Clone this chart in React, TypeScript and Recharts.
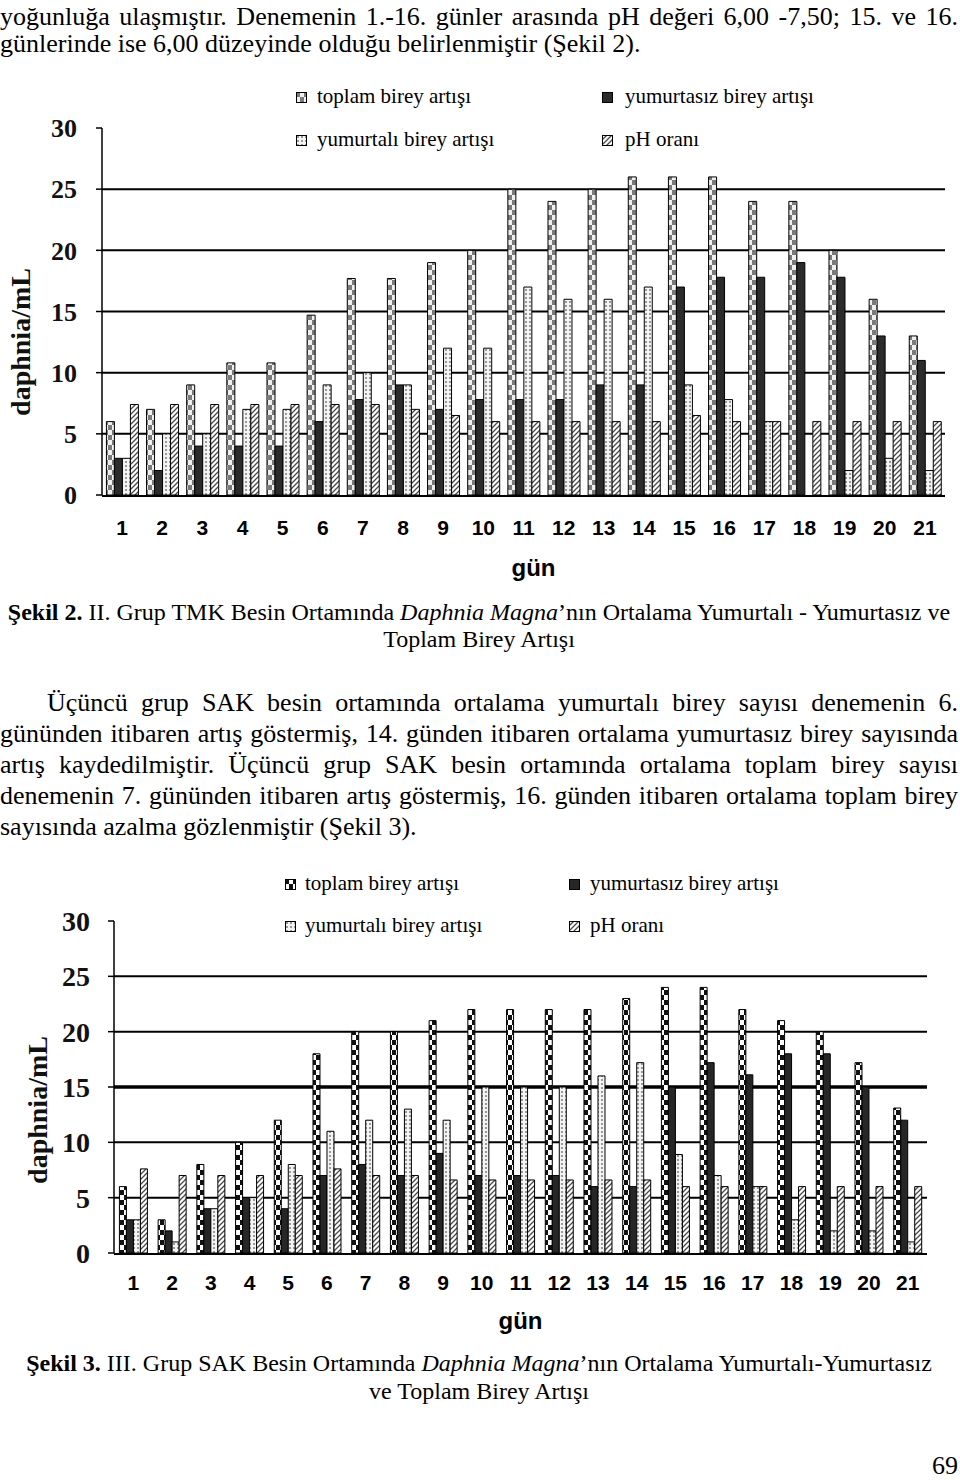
import React from 'react';
import { BarChart, Bar, XAxis, YAxis, CartesianGrid, Legend } from 'recharts';

// categories (gün)
const days = ['1', '2', '3', '4', '5', '6', '7', '8', '9', '10', '11', '12', '13', '14', '15', '16', '17', '18', '19', '20', '21'];
const dayEdges = [0, 1, 2, 3, 4, 5, 6, 7, 8, 9, 10, 11, 12, 13, 14, 15, 16, 17, 18, 19, 20, 21];
const yTicks = [0, 5, 10, 15, 20, 25, 30];

// Şekil 2 - II. Grup TMK
const toplam2 = [6, 7, 9, 10.8, 10.8, 14.7, 17.7, 17.7, 19, 20, 25, 24, 25, 26, 26, 26, 24, 24, 20, 16, 13];
const yumurtasiz2 = [3, 2, 4, 4, 4, 6, 7.8, 9, 7, 7.8, 7.8, 7.8, 9, 9, 17, 17.8, 17.8, 19, 17.8, 13, 11];
const yumurtali2 = [3, 5, 5, 7, 7, 9, 10, 9, 12, 12, 17, 16, 16, 17, 9, 7.8, 6, 0, 2, 3, 2];
const ph2 = [7.4, 7.4, 7.4, 7.4, 7.4, 7.4, 7.4, 7, 6.5, 6, 6, 6, 6, 6, 6.5, 6, 6, 6, 6, 6, 6];

// Şekil 3 - III. Grup SAK
const toplam3 = [6, 3, 8, 10, 12, 18, 20, 20, 21, 22, 22, 22, 22, 23, 24, 24, 22, 21, 20, 17.2, 13.1];
const yumurtasiz3 = [3, 2, 4, 5, 4, 7, 8, 7, 9, 7, 7, 7, 6, 6, 15, 17.2, 16.1, 18, 18, 15, 12];
const yumurtali3 = [3, 1, 4, 5, 8, 11, 12, 13, 12, 15, 15, 15, 16, 17.2, 8.9, 7, 6, 3, 2, 2, 1];
const ph3 = [7.6, 7, 7, 7, 7, 7.6, 7, 7, 6.6, 6.6, 6.6, 6.6, 6.6, 6.6, 6, 6, 6, 6, 6, 6, 6];

const seriesNames: Record<string, string> = {
  toplam: 'toplam birey artışı',
  yumurtasiz: 'yumurtasız birey artışı',
  yumurtali: 'yumurtalı birey artışı',
  ph: 'pH oranı',
};

const buildData = (t: number[], ys: number[], yl: number[], ph: number[]) =>
  days.map((day, i) => ({ day, edge: i, toplam: t[i], yumurtasiz: ys[i], yumurtali: yl[i], ph: ph[i] }));

const data2 = buildData(toplam2, yumurtasiz2, yumurtali2, ph2);
const data3 = buildData(toplam3, yumurtasiz3, yumurtali3, ph3);

const serif = "'Liberation Serif', 'Times New Roman', serif";
const heavySans = "'Liberation Sans Narrow', 'Liberation Sans', Arial, sans-serif";

function renderDefs(p: string, checker: string, light: string) {
  return (
    <defs>
      <pattern id={`${p}-toplam`} width={8} height={10} patternUnits="userSpaceOnUse">
        <rect width={8} height={10} fill={checker} />
        <rect x={4} y={0} width={4} height={5} fill={light} />
        <rect x={0} y={5} width={4} height={5} fill={light} />
      </pattern>
      <pattern id={`${p}-yumurtali`} width={4} height={4} patternUnits="userSpaceOnUse">
        <rect width={4} height={4} fill="#f4f4f4" />
        <rect x={1} y={1} width={2} height={2} fill="#999" />
      </pattern>
      <pattern id={`${p}-ph`} width={5} height={5} patternUnits="userSpaceOnUse">
        <rect width={5} height={5} fill="#fff" />
        <path d="M-1,1 l2,-2 M0,5 l5,-5 M4,6 l2,-2" stroke="#4a4a4a" strokeWidth={1.3} />
      </pattern>
    </defs>
  );
}

const fillsFor = (p: string, dark: string): Record<string, string> => ({
  toplam: `url(#${p}-toplam)`,
  yumurtasiz: dark,
  yumurtali: `url(#${p}-yumurtali)`,
  ph: `url(#${p}-ph)`,
});

interface LegendLayout {
  rows: number[];
  icons: number[];
  texts: number[];
}

function makeLegend(fills: Record<string, string>, lay: LegendLayout) {
  const items = [
    { key: 'toplam', col: 0, row: 0 },
    { key: 'yumurtali', col: 0, row: 1 },
    { key: 'yumurtasiz', col: 1, row: 0 },
    { key: 'ph', col: 1, row: 1 },
  ];
  return () => (
    <div style={{ position: 'relative', width: 960, height: 0 }}>
      {items.map((it) => (
        <React.Fragment key={it.key}>
          <svg
            width={11}
            height={11}
            style={{ position: 'absolute', left: lay.icons[it.col], top: lay.rows[it.row] - 5 }}
          >
            <rect x={0.5} y={0.5} width={10} height={10} fill={fills[it.key]} stroke="#000" strokeWidth={1} />
          </svg>
          <span
            style={{
              position: 'absolute',
              left: lay.texts[it.col],
              top: lay.rows[it.row] - 13,
              fontFamily: serif,
              fontSize: 21,
              lineHeight: '24px',
              whiteSpace: 'nowrap',
              color: '#000',
            }}
          >
            {seriesNames[it.key]}
          </span>
        </React.Fragment>
      ))}
    </div>
  );
}

interface ChartProps {
  data: any[];
  p: string;
  checker: string;
  light: string;
  dark: string;
  top: number;
  height: number;
  plotLeft: number;
  plotRight: number;
  plotTop: number;
  plotBottom: number;
  gap: string;
  grids: { values: number[]; width: number }[];
  yTickMargin: number;
  yFont: number;
  xTickMargin: number;
  gunOffset: number;
  gunDx: number;
  legend: LegendLayout;
  titleX: number;
  titleY: number;
}

function DaphniaChart(c: ChartProps) {
  const fills = fillsFor(c.p, c.dark);
  const margin = {
    top: c.plotTop - c.top,
    right: 960 - c.plotRight,
    left: 0,
    bottom: c.top + c.height - c.plotBottom - 2,
  };
  return (
    <div style={{ position: 'absolute', left: 0, top: c.top, width: 960, height: c.height }}>
      <BarChart width={960} height={c.height} data={c.data} margin={margin} barCategoryGap={c.gap} barGap={0}>
        {renderDefs(c.p, c.checker, c.light)}
        {c.grids.map((g, i) => (
          <CartesianGrid
            key={i}
            vertical={false}
            horizontalValues={g.values}
            stroke="#000"
            strokeWidth={g.width}
          />
        ))}
        <XAxis
          xAxisId="edges"
          type="number"
          dataKey="edge"
          domain={[0, 21]}
          ticks={dayEdges}
          allowDataOverflow
          height={1}
          tick={false}
          tickSize={7}
          tickLine={{ stroke: '#000', strokeWidth: 1.5 }}
          axisLine={{ stroke: '#000', strokeWidth: 2 }}
        />
        <XAxis
          dataKey="day"
          height={1}
          tickLine={false}
          axisLine={false}
          tickSize={0}
          tickMargin={c.xTickMargin}
          interval={0}
          tick={{ fill: '#000', fontSize: 21, fontWeight: 900, fontFamily: heavySans }}
          label={{
            value: 'gün',
            position: 'bottom',
            offset: c.gunOffset,
            dx: c.gunDx,
            fill: '#000',
            fontSize: 24,
            fontWeight: 900,
            fontFamily: heavySans,
          }}
        />
        <YAxis
          width={c.plotLeft}
          domain={[0, 30]}
          ticks={yTicks}
          interval={0}
          tickSize={6}
          tickMargin={c.yTickMargin}
          axisLine={{ stroke: '#000', strokeWidth: 1.5 }}
          tickLine={{ stroke: '#000', strokeWidth: 1.5 }}
          tick={{ fill: '#111', fontSize: c.yFont, fontWeight: 700, fontFamily: serif }}
        />
        <Legend
          layout="horizontal"
          verticalAlign="middle"
          align="center"
          content={makeLegend(fills, c.legend)}
          wrapperStyle={{ left: 0, top: 0, width: 960, height: 0 }}
        />
        <Bar dataKey="toplam" fill={fills.toplam} stroke="#000" strokeWidth={1} isAnimationActive={false} />
        <Bar dataKey="yumurtasiz" fill={fills.yumurtasiz} stroke="#000" strokeWidth={1} isAnimationActive={false} />
        <Bar dataKey="yumurtali" fill={fills.yumurtali} stroke="#000" strokeWidth={1} isAnimationActive={false} />
        <Bar dataKey="ph" fill={fills.ph} stroke="#000" strokeWidth={1} isAnimationActive={false} />
      </BarChart>
      <div
        style={{
          position: 'absolute',
          left: c.titleX,
          top: c.titleY - c.top,
          transform: 'translate(-50%, -50%) rotate(-90deg)',
          fontFamily: serif,
          fontWeight: 700,
          fontSize: 28,
          lineHeight: '30px',
          whiteSpace: 'nowrap',
          color: '#111',
        }}
      >
        daphnia/mL
      </div>
    </div>
  );
}

// a line of running text, positioned by its baseline
function TextLine(props: {
  baseline: number;
  left?: number;
  width?: number;
  size?: number;
  align?: 'left' | 'center' | 'justify' | 'right';
  children: React.ReactNode;
}) {
  const size = props.size ?? 26;
  const lh = 30;
  const top = props.baseline - ((lh - size * 1.107) / 2 + size * 0.891);
  const align = props.align ?? 'left';
  return (
    <div
      style={{
        position: 'absolute',
        top,
        left: props.left ?? 0,
        width: props.width ?? 958 - (props.left ?? 0),
        fontSize: size,
        lineHeight: `${lh}px`,
        textAlign: align,
        textAlignLast: align,
        color: '#000',
      }}
    >
      {props.children}
    </div>
  );
}

export default function App() {
  return (
    <div
      style={{
        position: 'absolute',
        left: 0,
        top: 0,
        width: 960,
        height: 1480,
        background: '#fff',
        fontFamily: serif,
        overflow: 'hidden',
      }}
    >
      <TextLine baseline={26} align="justify">
        yoğunluğa ulaşmıştır. Denemenin 1.-16. günler arasında pH değeri 6,00 -7,50; 15. ve 16.
      </TextLine>
      <TextLine baseline={53}>günlerinde ise 6,00 düzeyinde olduğu belirlenmiştir (Şekil 2).</TextLine>

      <DaphniaChart
        data={data2}
        p="s2"
        checker="#7a7a7a"
        light="#f0f0f0"
        dark="#2b2b2b"
        top={60}
        height={540}
        plotLeft={102}
        plotRight={945}
        plotTop={128}
        plotBottom={495}
        gap="11%"
        grids={[{ values: [5, 10, 15, 20, 25], width: 2 }]}
        yTickMargin={19}
        yFont={26}
        xTickMargin={25}
        gunOffset={63}
        gunDx={10}
        legend={{ rows: [37, 80], icons: [296, 602], texts: [317, 625] }}
        titleX={21}
        titleY={342}
      />

      <TextLine baseline={620} left={0} width={958} size={24} align="center">
        <b>Şekil 2.</b> II. Grup TMK Besin Ortamında <i>Daphnia Magna</i>’nın Ortalama Yumurtalı - Yumurtasız ve
      </TextLine>
      <TextLine baseline={647} left={0} width={958} size={24} align="center">
        Toplam Birey Artışı
      </TextLine>

      <TextLine baseline={712} left={47} width={911} align="justify">
        Üçüncü grup SAK besin ortamında ortalama yumurtalı birey sayısı denemenin 6.
      </TextLine>
      <TextLine baseline={743} align="justify">
        gününden itibaren artış göstermiş, 14. günden itibaren ortalama yumurtasız birey sayısında
      </TextLine>
      <TextLine baseline={774} align="justify">
        artış kaydedilmiştir. Üçüncü grup SAK besin ortamında ortalama toplam birey sayısı
      </TextLine>
      <TextLine baseline={805} align="justify">
        denemenin 7. gününden itibaren artış göstermiş, 16. günden itibaren ortalama toplam birey
      </TextLine>
      <TextLine baseline={836}>sayısında azalma gözlenmiştir (Şekil 3).</TextLine>

      <DaphniaChart
        data={data3}
        p="s3"
        checker="#111"
        light="#fff"
        dark="#262626"
        top={850}
        height={500}
        plotLeft={114}
        plotRight={927}
        plotTop={921}
        plotBottom={1253}
        gap="14%"
        grids={[
          { values: [5, 10, 20, 25], width: 2 },
          { values: [15], width: 3.5 },
        ]}
        yTickMargin={18}
        yFont={28}
        xTickMargin={22}
        gunOffset={58}
        gunDx={0}
        legend={{ rows: [34, 76], icons: [285, 569], texts: [305, 590] }}
        titleX={38}
        titleY={1110}
      />

      <TextLine baseline={1371} left={0} width={958} size={24} align="center">
        <b>Şekil 3.</b> III. Grup SAK Besin Ortamında <i>Daphnia Magna</i>’nın Ortalama Yumurtalı-Yumurtasız
      </TextLine>
      <TextLine baseline={1399} left={0} width={958} size={24} align="center">
        ve Toplam Birey Artışı
      </TextLine>

      <TextLine baseline={1475} left={900} width={58} align="right">
        69
      </TextLine>
    </div>
  );
}
